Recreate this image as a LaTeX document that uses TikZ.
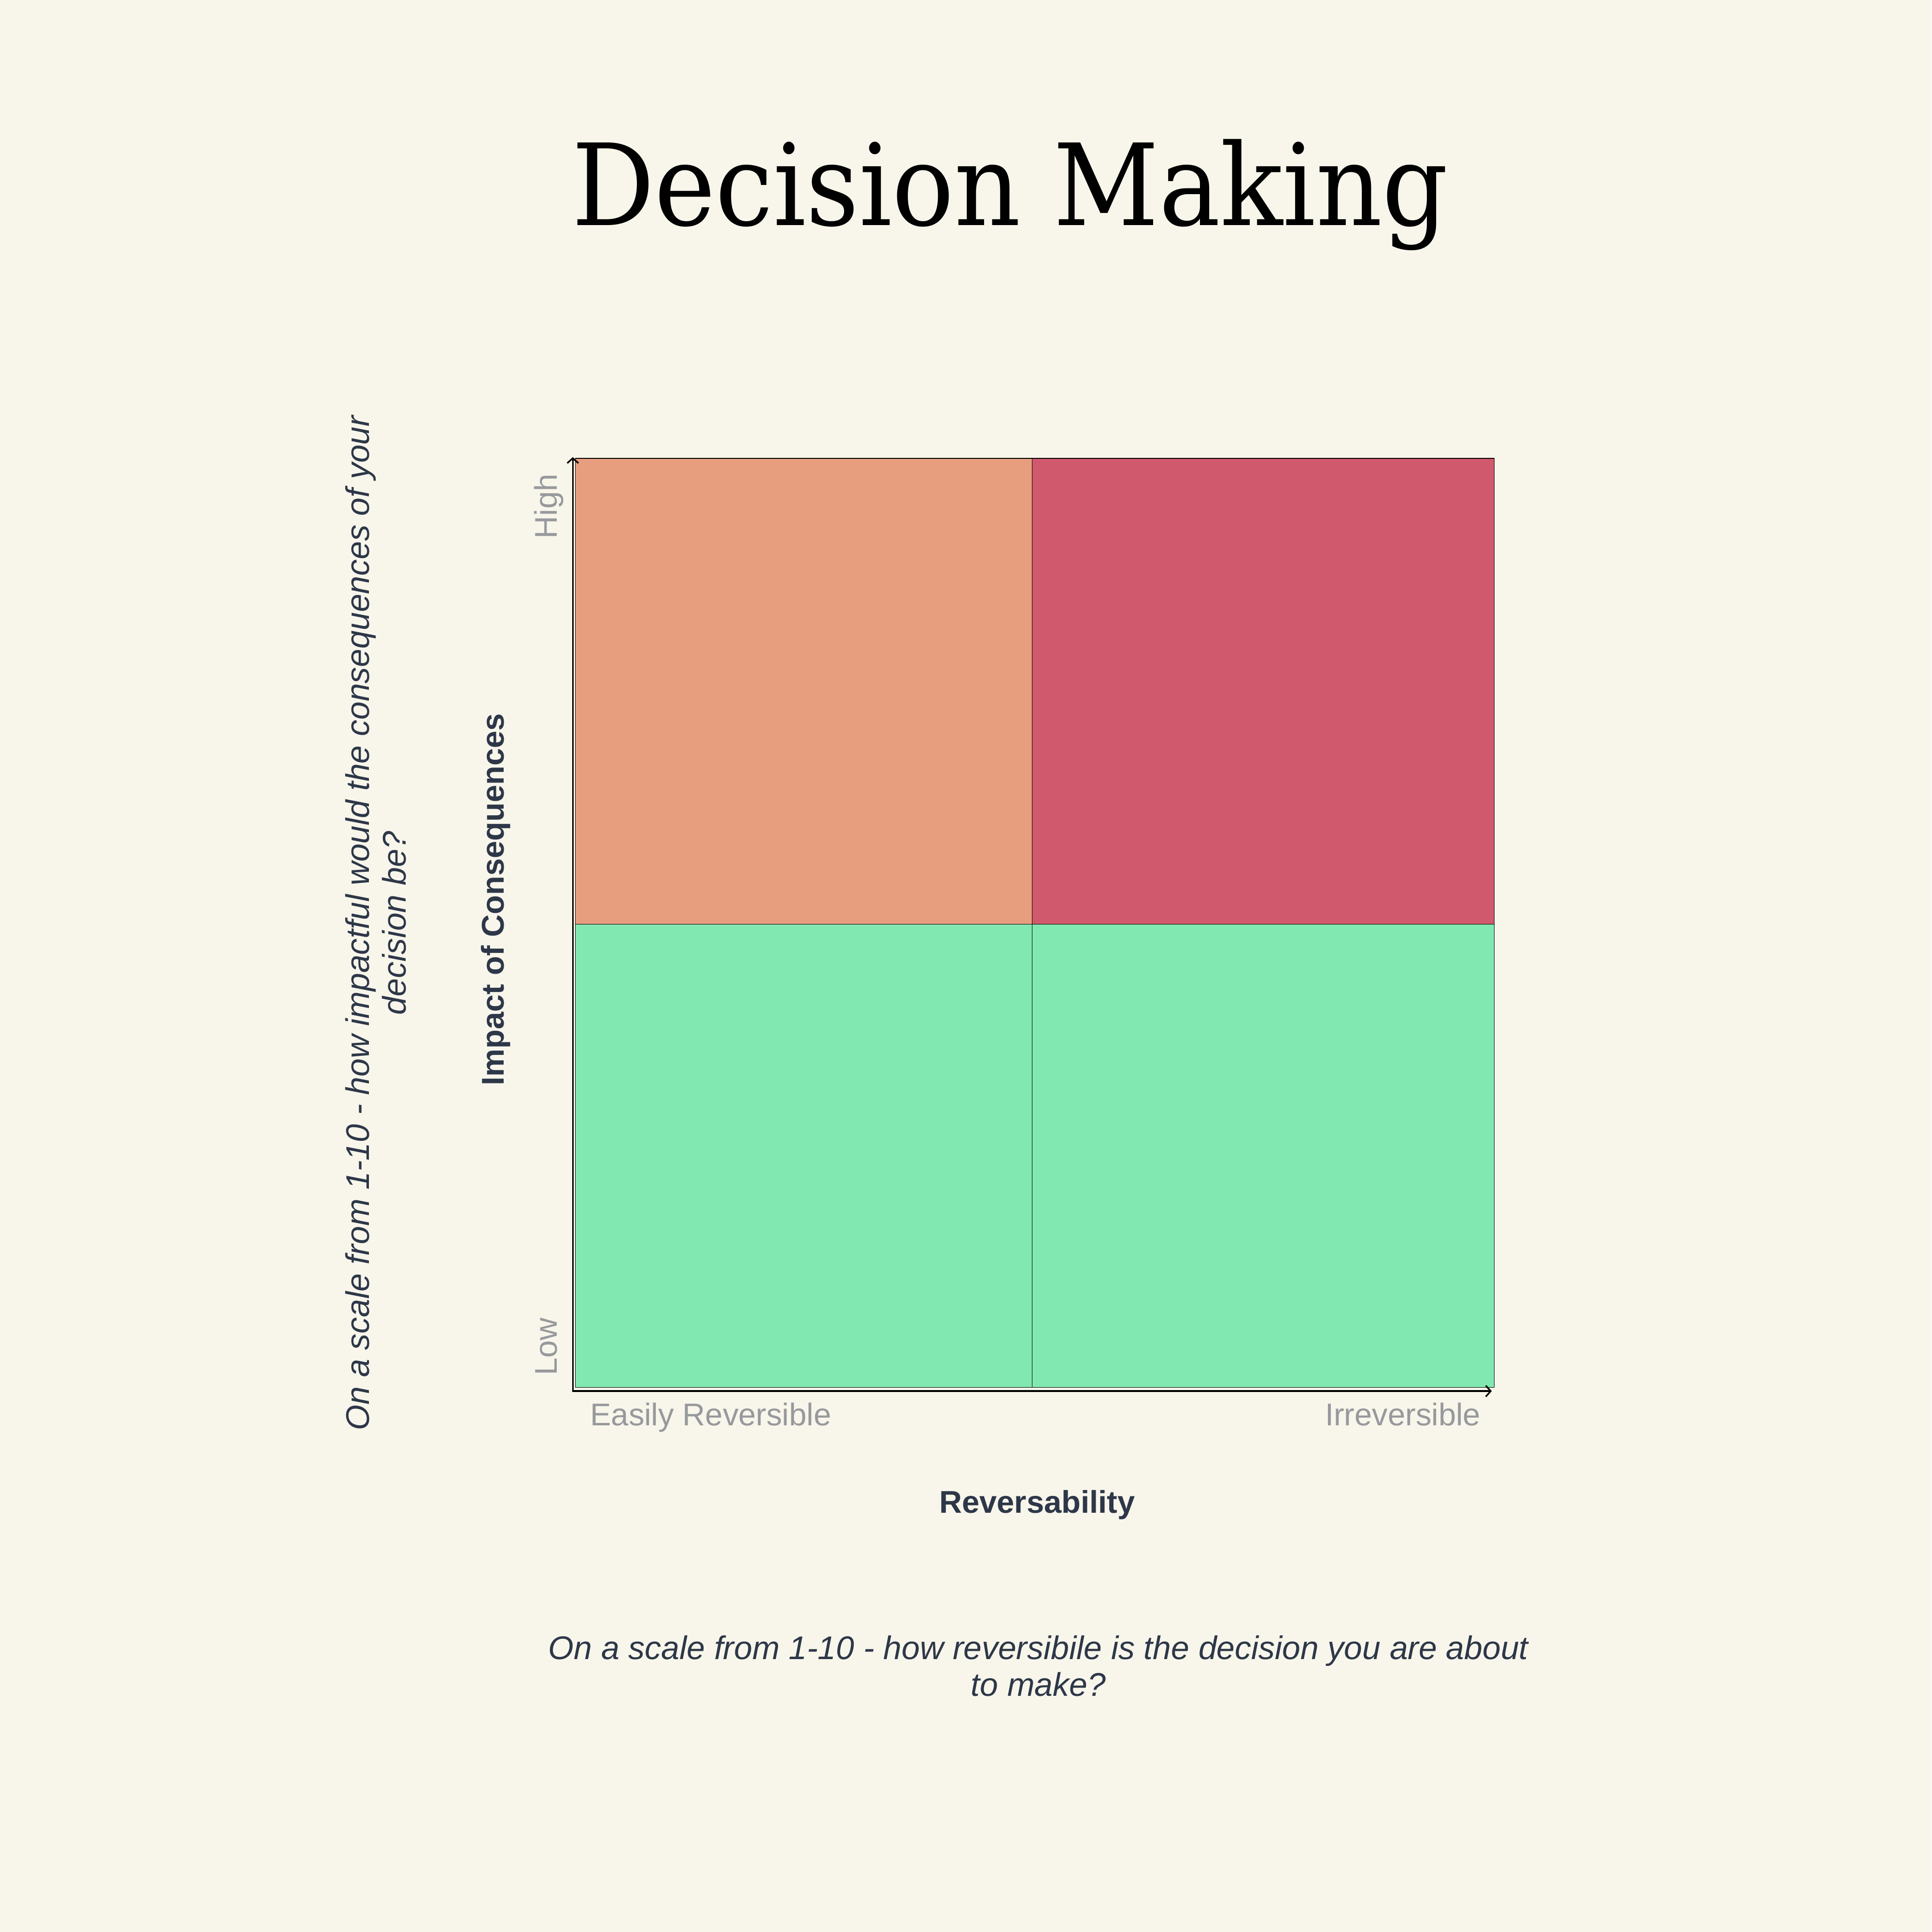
\documentclass[tikz,border=0pt]{standalone}
\usepackage{fontspec}
\setmainfont{Liberation Sans}
\newfontfamily\titlefont{DejaVu Serif}
\usetikzlibrary{arrows.meta,positioning}
\definecolor{bgcream}{HTML}{F8F6EB}
\definecolor{quadorange}{HTML}{E79E7E}
\definecolor{quadred}{HTML}{D1596D}
\definecolor{quadgreen}{HTML}{82E8B1}
\definecolor{labelgray}{HTML}{97999C}
\definecolor{textdark}{HTML}{2D3748}
\tikzset{
  cell/.style={draw=black,line width=0.5pt,inner sep=0pt,outer sep=0pt,
    minimum width=372pt,anchor=north west},
  axis/.style={line width=1.3pt,-{Straight Barb[length=4pt,width=9pt,line width=1.3pt]}},
  tick/.style={text=labelgray,font=\fontsize{25.5}{30}\selectfont,inner sep=0pt},
  axistitle/.style={text=textdark,font=\bfseries\fontsize{25.5}{30}\selectfont,inner sep=0pt},
  note/.style={text=textdark,font=\itshape\fontsize{26.6}{30}\selectfont,align=center,inner sep=0pt}
}
\begin{document}
\begin{tikzpicture}[line cap=round,line join=round,x=1pt,y=-1pt]
\fill[bgcream] (0,0) rectangle (1568,1568);
\useasboundingbox (0,0) rectangle (1568,1568);
% title
\node[anchor=base,inner sep=0pt,xscale=0.91] (title) at (820,183)
  {\titlefont\fontsize{92}{110}\selectfont Decision Making};
% quadrants
\node[cell,fill=quadorange,minimum height=378pt] (topleft) at (467,372) {};
\node[cell,fill=quadred,minimum height=378pt,minimum width=375pt] (topright) at (838,372) {};
\node[cell,fill=quadgreen,minimum height=376pt] (botleft) at (467,750) {};
\node[cell,fill=quadgreen,minimum height=376pt,minimum width=375pt] (botright) at (838,750) {};
% axes
\coordinate (origin) at (465,1129);
\coordinate (ytop) at (465,371);
\coordinate (xend) at (1211,1129);
\draw[axis] (origin) -- (ytop);
\draw[axis] (origin) -- (xend);
% axis labels
\node[tick,rotate=90,anchor=base] (high) at (452,411) {High};
\node[tick,rotate=90,anchor=base] (low) at (452,1093) {Low};
\node[tick,anchor=base west] (easy) at (479,1157) {Easily Reversible};
\node[tick,anchor=base east] (irrev) at (1202,1157) {Irreversible};
\node[axistitle,anchor=base] (xtitle) at (842,1228) {Reversability};
\node[axistitle,rotate=90,anchor=base] (ytitle) at (409,730) {Impact of Consequences};
% questions
\node[note,rotate=90] (yquestion) at (305,749)
  {On a scale from 1-10 - how impactful would the consequences of your\\decision be?};
\node[note] (xquestion) at (843,1352)
  {On a scale from 1-10 - how reversibile is the decision you are about\\to make?};
\end{tikzpicture}
\end{document}
